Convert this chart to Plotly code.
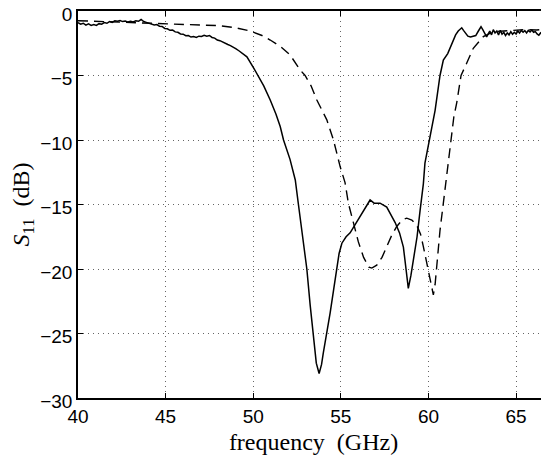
import plotly.graph_objects as go

# Measured S11 (solid)
meas_freq = [40.0, 40.15, 40.3, 40.45, 40.6, 40.75, 40.9, 41.05, 41.2, 41.35, 41.5, 41.65, 41.8, 41.95,
             42.1, 42.25, 42.4, 42.55, 42.7, 42.85, 43.0, 43.15, 43.3, 43.45, 43.6, 43.75, 43.9, 44.05,
             44.2, 44.35, 44.5, 44.65, 44.8, 44.95, 45.1, 45.25, 45.4, 45.55, 45.7, 45.85, 46.0, 46.15,
             46.3, 46.45, 46.6, 46.75, 46.9, 47.05, 47.2, 47.35, 47.5, 47.65, 47.8, 47.95, 48.1, 48.25,
             48.4, 48.55, 48.7, 48.86, 49.0, 49.2, 49.4, 49.64, 50.02,
             50.28, 50.6, 50.97, 51.3, 51.54, 51.73, 52.1, 52.4, 52.58, 52.8, 53.06, 53.25, 53.44,
             53.6, 53.76, 53.9, 54.0, 54.2, 54.39, 54.6, 54.77, 54.9, 55.06, 55.3, 55.53, 55.8, 56.1,
             56.4, 56.67, 56.9, 57.24, 57.62, 57.9, 58.1, 58.35, 58.57, 58.72, 58.85, 59.0, 59.14,
             59.35, 59.52, 59.71, 59.8, 60.05, 60.38, 60.66, 60.85, 61.1, 61.42, 61.55, 61.7, 61.8,
             61.9, 62.0, 62.1, 62.25, 62.4, 62.55, 62.7, 62.85, 63.0, 63.1, 63.2, 63.32, 63.42, 63.5,
             63.6, 63.7, 63.8, 63.9, 64.0, 64.1, 64.2, 64.3, 64.4, 64.5, 64.6, 64.7, 64.8, 64.9, 65.0,
             65.1, 65.2, 65.3, 65.4, 65.5, 65.6, 65.7, 65.8, 65.9, 66.0, 66.1, 66.2, 66.3, 66.4, 66.5,
             66.6, 66.7, 66.8, 66.9]
meas_db = [-0.90, -1.02, -0.95, -1.10, -1.00, -1.12, -1.05, -1.12, -0.98, -1.02, -0.90, -0.95, -0.82,
           -0.88, -0.76, -0.80, -0.74, -0.82, -0.78, -0.86, -0.80, -0.85, -0.76, -0.80, -0.66, -0.82,
           -0.88, -0.95, -0.96, -1.08, -1.05, -1.18, -1.20, -1.35, -1.38, -1.50, -1.48, -1.62, -1.65,
           -1.78, -1.80, -1.92, -1.90, -2.02, -1.98, -2.05, -1.95, -1.98, -1.88, -1.95, -1.90, -2.05,
           -2.10, -2.25, -2.30, -2.42, -2.48, -2.60, -2.68, -2.78, -2.92, -3.10, -3.30, -3.55, -4.4,
           -5.0, -5.8, -6.9, -8.0, -8.96, -10.0, -11.5, -13.1, -15.0, -17.3, -20.0,
           -22.8, -25.5, -27.3, -28.1, -27.4, -26.5, -25.0, -23.4, -21.5, -20.0, -18.8, -18.0, -17.5,
           -17.2, -16.6, -15.9, -15.2, -14.65, -14.9, -14.9, -15.2, -15.9, -16.4, -17.2, -18.3, -20.0,
           -21.5, -20.5, -19.3, -17.5, -15.5, -13.4, -11.8, -10.0, -7.7, -5.0, -3.8, -3.3, -2.25,
           -1.85, -1.55, -1.45, -1.30, -1.50, -1.70, -1.95, -2.02, -1.98, -1.90, -1.55, -1.22, -1.45,
           -1.75, -2.0, -1.75, -1.55, -1.85, -1.45, -1.70, -1.55, -1.85, -1.50, -1.80, -1.65, -1.90,
           -1.70, -1.85, -1.60, -1.80, -1.65, -1.78, -1.55, -1.70, -1.50, -1.65, -1.52, -1.70, -1.50,
           -1.62, -1.48, -1.65, -1.60, -1.78, -1.88, -1.70, -1.60, -1.55, -1.45, -1.40, -1.30]

# Simulated S11 (dashed)
sim_freq = [40.0, 41.0, 42.0, 43.0, 44.0, 45.1, 46.0, 47.0, 48.1, 49.0, 49.83, 50.5, 50.97, 51.6, 52.1,
            52.68, 52.96, 53.3, 53.63, 54.2, 54.58, 54.96, 55.24, 55.43, 55.7, 56.0, 56.3, 56.6,
            56.77, 57.05, 57.35, 57.62, 57.9, 58.19, 58.5, 58.76, 59.05, 59.33, 59.55, 59.71, 59.85,
            60.0, 60.15, 60.28, 60.38, 60.47, 60.66, 60.85, 61.05, 61.27, 61.45, 61.61, 61.86, 62.18,
            62.56, 63.13, 63.7, 64.3, 65.0, 65.5, 66.17, 66.9]
sim_db = [-0.75, -0.8, -0.85, -0.88, -0.92, -0.95, -1.0, -1.06, -1.14, -1.3, -1.55, -1.9, -2.25, -2.8,
          -3.4, -4.57, -5.0, -5.8, -6.9, -8.44, -10.0, -12.06, -13.3, -14.9, -16.3, -17.9, -19.1,
          -19.85, -19.93, -19.7, -19.1, -18.26, -17.4, -16.7, -16.2, -16.06, -16.2, -16.6, -17.3,
          -18.26, -19.2, -20.3, -21.3, -22.0, -21.2, -19.8, -17.0, -14.9, -12.7, -10.0, -8.2, -7.15,
          -5.0, -4.05, -2.89, -1.99, -1.6, -1.55, -1.5, -1.45, -1.47, -1.4]

x_ticks = [40, 45, 50, 55, 60, 65]
y_ticks = [0, -5, -10, -15, -20, -25, -30]
y_tick_text = ["0", "\u22125", "\u221210", "\u221215", "\u221220", "\u221225", "\u221230"]

fig = go.Figure()
fig.add_trace(go.Scatter(x=sim_freq, y=sim_db, mode="lines",
                         line=dict(color="black", width=1.4, dash="10px,6px"), showlegend=False))
fig.add_trace(go.Scatter(x=meas_freq, y=meas_db, mode="lines",
                         line=dict(color="black", width=1.5), showlegend=False))

tickfont = dict(family="Liberation Sans, Arial, sans-serif", size=19, color="black")
titlefont = dict(family="Liberation Serif, Times New Roman, serif", size=24, color="black")

# the page body adds an 8px offset, so the figure is sized/margined to compensate
fig.update_layout(
    width=541, height=455,
    margin=dict(l=70, r=0, t=3, b=65),
    plot_bgcolor="white", paper_bgcolor="white",
    xaxis=dict(range=[40, 66.88], tickvals=x_ticks, ticks="inside", ticklen=5, tickcolor="black",
               showline=True, linecolor="black", linewidth=1.5, mirror="ticks", automargin=False,
               showgrid=True, gridcolor="#666666", griddash="1px,4px", gridwidth=1,
               zeroline=False, tickfont=tickfont, ticklabeloverflow="allow",
               title=dict(text="frequency\u2002(GHz)", font=titlefont, standoff=8)),
    yaxis=dict(range=[-30, 0], tickvals=y_ticks, ticktext=y_tick_text, ticks="inside", ticklen=5,
               tickcolor="black", showline=True, linecolor="black", linewidth=1.5, mirror=False,
               automargin=False, ticklabeloverflow="allow", ticklabelshift=3,
               showgrid=True, gridcolor="#666666", griddash="1px,4px", gridwidth=1,
               zeroline=False, tickfont=tickfont,
               title=dict(text="<i>S</i><sub>11</sub>\u2002(dB)", font=titlefont, standoff=8)),
)

fig.write_html("out.html")
